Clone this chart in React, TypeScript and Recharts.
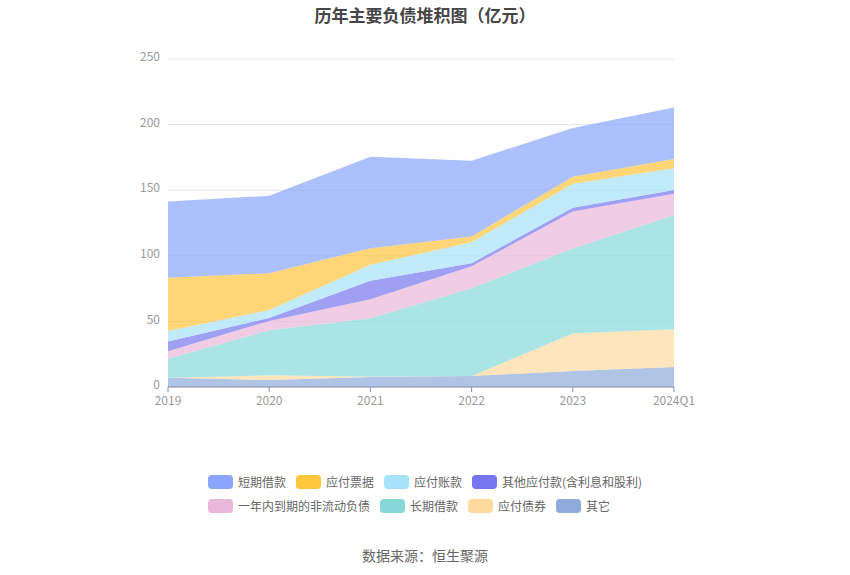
import React from 'react'
import { AreaChart, Area, CartesianGrid, XAxis, YAxis } from 'recharts'

const years = ['2019', '2020', '2021', '2022', '2023', '2024Q1']

// stacked from the bottom up
const qita = [7.1, 5.3, 7.6, 8.4, 12.2, 15.3]
const yingfuZhaiquan = [0, 3.6, 0.3, 0, 28.5, 28.7]
const changqiJiekuan = [14.5, 34.3, 44.5, 66.9, 64.8, 87.0]
const yinianNeiDaoqi = [5.6, 7.2, 14.5, 16.8, 28.3, 16.3]
const qitaYingfu = [7.4, 2.2, 14.0, 2.3, 2.8, 2.8]
const yingfuZhangkuan = [8.1, 6.1, 12.2, 16.0, 18.3, 16.6]
const yingfuPiaoju = [40.5, 28.0, 12.7, 4.3, 5.3, 7.1]
const duanqiJiekuan = [58.2, 59.0, 69.7, 57.7, 37.2, 39.2]

const yTicks = [0, 50, 100, 150, 200, 250]

const series = [
 { key: 'duanqi', name: '短期借款', color: '#89a5fc', values: duanqiJiekuan },
 { key: 'piaoju', name: '应付票据', color: '#ffc53d', values: yingfuPiaoju },
 { key: 'zhangkuan', name: '应付账款', color: '#a6e2fa', values: yingfuZhangkuan },
 { key: 'qitaYingfu', name: '其他应付款(含利息和股利)', color: '#7676f0', values: qitaYingfu },
 { key: 'yinian', name: '一年内到期的非流动负债', color: '#e9b8da', values: yinianNeiDaoqi },
 { key: 'changqi', name: '长期借款', color: '#86d8d8', values: changqiJiekuan },
 { key: 'zhaiquan', name: '应付债券', color: '#ffda9e', values: yingfuZhaiquan },
 { key: 'qita', name: '其它', color: '#8eabdc', values: qita },
]

const data = years.map((year, i) => {
 const row: Record<string, string | number> = { year }
 series.forEach((s) => { row[s.key] = s.values[i] })
 return row
})

const font = '"Noto Sans CJK SC", "Noto Sans", sans-serif'

function LegendRow({ items, top }: { items: typeof series; top: number }) {
 return (
 <div style={{ position: 'absolute', left: 208, top, display: 'flex', alignItems: 'center', height: 14 }}>
 {items.map((s) => (
 <div key={s.key} style={{ display: 'flex', alignItems: 'center', marginRight: 10 }}>
 <div style={{ width: 25, height: 14, borderRadius: 4, background: s.color, marginRight: 5 }} />
 <span style={{ fontSize: 12, color: '#666', lineHeight: '14px', whiteSpace: 'nowrap' }}>{s.name}</span>
 </div>
 ))}
 </div>
 )
}

export default function App() {
 // draw bottom layer first so stacking order matches
 const drawOrder = [...series].reverse()
 return (
 <div style={{ position: 'absolute', left: 0, top: 0, width: 850, height: 575, background: '#fff', fontFamily: font }}>
 <div style={{ position: 'absolute', top: 2, width: 850, textAlign: 'center', fontSize: 17, fontWeight: 'bold', color: '#464646' }}>
 历年主要负债堆积图（亿元）
 </div>
 <AreaChart width={850} height={575} data={data} margin={{ top: 59, right: 176, left: 128, bottom: 158 }}>
 <CartesianGrid vertical={false} stroke="#e0e6f1" />
 <XAxis
 dataKey="year"
 height={30}
 axisLine={{ stroke: '#8392b0' }}
 tickLine={{ stroke: '#8392b0' }}
 tick={{ fill: '#999', fontSize: 12, dy: 2 }}
 tickSize={5}
 interval={0}
 />
 <YAxis
 width={40}
 domain={[0, 250]}
 ticks={yTicks}
 axisLine={false}
 tickLine={false}
 tick={{ fill: '#999', fontSize: 12, dy: -2 }}
 />
 {drawOrder.map((s) => (
 <Area
 key={s.key}
 type="linear"
 dataKey={s.key}
 name={s.name}
 stackId="1"
 stroke="none"
 fill={s.color}
 fillOpacity={0.7}
 isAnimationActive={false}
 />
 ))}
 </AreaChart>
 <LegendRow items={series.slice(0, 4)} top={475} />
 <LegendRow items={series.slice(4)} top={499} />
 <div style={{ position: 'absolute', top: 545, width: 850, textAlign: 'center', fontSize: 14, color: '#666' }}>
 数据来源：恒生聚源
 </div>
 </div>
 )
}
